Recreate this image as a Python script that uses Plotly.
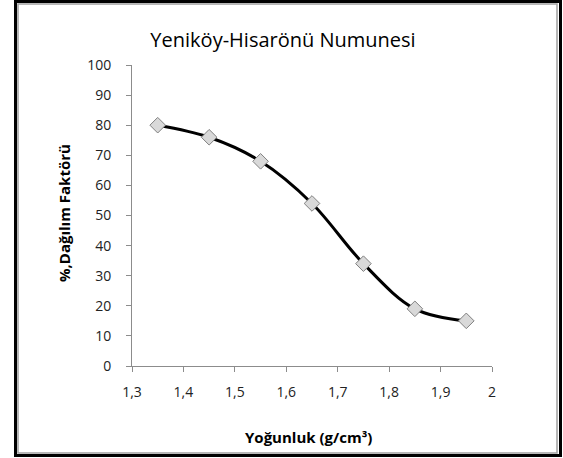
import plotly.graph_objects as go

# data
density = [1.35, 1.45, 1.55, 1.65, 1.75, 1.85, 1.95]
dispersion = [80, 76, 68, 54, 34, 19, 15]

W, H = 563, 458
L, R, T, B = 132, 71, 65, 92
pw, ph = W - L - R, H - T - B


def px(x):
    return (x - L) / pw


def py(y):
    return (H - B - y) / ph


FONT = "Open Sans"

fig = go.Figure()
fig.add_trace(go.Scatter(
    x=density, y=dispersion, mode="lines+markers",
    line=dict(color="black", width=3, shape="spline", smoothing=1.0),
    marker=dict(symbol="diamond", size=12, color="#d9d9d9",
                line=dict(color="#808080", width=1)),
    showlegend=False,
))

axis_common = dict(
    showgrid=False, zeroline=False, showline=True, linecolor="#8c8c8c",
    linewidth=1, ticks="outside", ticklen=5, tickcolor="#8c8c8c",
    tickfont=dict(family=FONT, size=14, color="#222"),
)
fig.update_xaxes(range=[1.3, 2.0], dtick=0.1, tick0=1.3,
                 ticklabelstandoff=8, **axis_common)
fig.update_yaxes(range=[0, 100], dtick=10, ticklabelstandoff=12, **axis_common)

fig.update_layout(
    width=W, height=H,
    margin=dict(l=L, r=R, t=T, b=B),
    paper_bgcolor="white", plot_bgcolor="white",
    separators=",.",
    title=dict(text="Yeniköy-Hisarönü Numunesi", x=px(283), xref="paper",
               xanchor="center", y=1 - 40 / H, yanchor="middle",
               font=dict(family=FONT, size=20, color="black")),
    annotations=[
        dict(text="<b>Yoğunluk (g/cm³)</b>", xref="paper", yref="paper",
             x=px(308), y=py(437), xanchor="center", yanchor="middle",
             showarrow=False,
             font=dict(family=FONT, size=15, color="black")),
        dict(text="<b>%,Dağılım Faktörü</b>", xref="paper", yref="paper",
             x=px(64), y=py(213), xanchor="center", yanchor="middle",
             showarrow=False, textangle=-90,
             font=dict(family=FONT, size=15, color="black")),
    ],
    shapes=[
        dict(type="rect", xref="paper", yref="paper",
             x0=px(15.5), x1=px(560.5), y0=py(1.5), y1=py(455.5),
             line=dict(color="black", width=3)),
        dict(type="rect", xref="paper", yref="paper",
             x0=px(18), x1=px(557), y0=py(4), y1=py(453),
             line=dict(color="#a0a0a0", width=1.5)),
    ],
)

fig.write_html("out.html", config={"displayModeBar": False},
               post_script="document.body.style.margin='0px';")
